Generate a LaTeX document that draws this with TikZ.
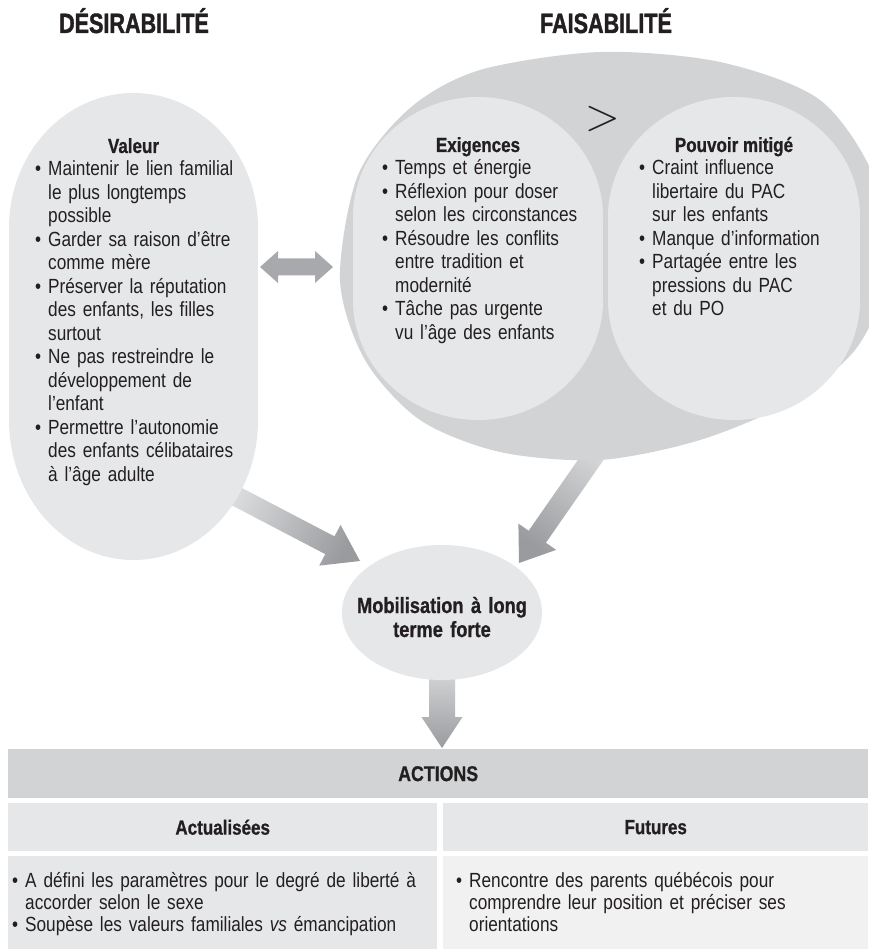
\RequirePackage{fix-cm}
\documentclass[tikz,border=0pt]{standalone}
\usepackage{fontspec}
\setmainfont{Liberation Sans}[FakeStretch=0.84]
\newfontfamily\headfont{Liberation Sans}[FakeStretch=0.83, BoldFeatures={FakeBold=0.8}]
\newfontfamily\titlefont{Liberation Sans}[FakeStretch=0.77, BoldFeatures={FakeBold=1.4}]
\usetikzlibrary{calc,shapes.geometric}

\definecolor{ink}{HTML}{231F20}
\definecolor{outerg}{HTML}{D1D3D4}
\definecolor{innerg}{HTML}{E6E7E8}
\definecolor{palecell}{HTML}{F1F1F2}
\definecolor{dblg}{HTML}{A7A9AC}
\definecolor{arrlight}{HTML}{D9DADC}
\definecolor{arrdark}{HTML}{999B9E}

% one bulleted paragraph with a hanging indent; lines broken by \newline
\newcommand\bulletline[1]{\hangindent=13pt\hangafter=1\noindent\hbox to 13pt{\textbullet\hfil}#1\par}

% broad arrow: style, tail, tip, shaft half width, head half width, head length
\newcommand\fatarrow[6]{%
  \coordinate (fa-b) at ($(#3)!#6!(#2)$);
  \path[#1] ($(#2)!#4!90:(#3)$) -- ($(fa-b)!#4!-90:(#2)$) -- ($(fa-b)!#5!-90:(#2)$)
    -- (#3) -- ($(fa-b)!#5!90:(#2)$) -- ($(fa-b)!#4!90:(#2)$) -- ($(#2)!#4!-90:(#3)$) -- cycle;
}

\begin{document}
\begin{tikzpicture}[x=1pt,y=-1pt,
  titlestyle/.style={anchor=base, inner sep=0pt, text=ink, font=\titlefont\bfseries\fontsize{28}{30}\selectfont},
  headstyle/.style={anchor=base, inner sep=0pt, text=ink, font=\headfont\bfseries\fontsize{20.5}{23.5}\selectfont},
  listtext/.style={anchor=base west, inner sep=0pt, text width=#1, align=left, text=ink, font=\fontsize{20.5}{23.5}\selectfont},
  celllist/.style={anchor=base west, inner sep=0pt, text width=#1, align=left, text=ink, font=\fontsize{20.5}{22}\selectfont},
  cell/.style={anchor=north west, inner sep=0pt, text=ink, font=\headfont\bfseries\fontsize{20.5}{22}\selectfont},
  gradarrow/.style={shade, top color=arrlight, bottom color=arrdark, shading angle=#1},
]
\useasboundingbox (0,0) rectangle (868,949);
\fill[white] (0,0) rectangle (868,949);

% connector end points
\coordinate (la-tail) at (228,492);
\coordinate (la-tip) at (360,561);
\coordinate (ra-tail) at (606,438);
\coordinate (ra-tip) at (519,563);
\coordinate (dn-tail) at (442,665);
\coordinate (dn-tip) at (442,748);
\coordinate (dbl-l) at (260,267);
\coordinate (dbl-r) at (333,267);

% shaded arrows, drawn first so that the shapes cover their tails
\fatarrow{gradarrow=62.6}{la-tail}{la-tip}{10pt}{23pt}{34pt}
\fatarrow{gradarrow=-35}{ra-tail}{ra-tip}{10.5pt}{23pt}{32pt}
\fatarrow{gradarrow=0}{dn-tail}{dn-tip}{13pt}{20.5pt}{31pt}

% feasibility bubble
\fill[outerg] plot[smooth cycle] coordinates {
  (340,280) (358,175) (410,108) (480,70) (600,52) (720,62) (820,100) (875,180)
  (885,280) (855,350) (790,402) (700,440) (600,460) (500,452) (420,420) (365,360)};
% demands
\fill[innerg] (478,217) ellipse [x radius=125, y radius=120];
\fill[innerg] (478,300) ellipse [x radius=125, y radius=120];
\fill[innerg] (353,217) rectangle (603,300);
% limited power
\fill[innerg] (734,217) ellipse [x radius=126, y radius=120];
\fill[innerg] (734,300) ellipse [x radius=126, y radius=120];
\fill[innerg] (608,217) rectangle (860,300);
% value pill
\fill[innerg] (133.5,228) ellipse [x radius=124.5, y radius=135];
\fill[innerg] (133.5,420) ellipse [x radius=124.5, y radius=140];
\fill[innerg] (9,228) rectangle (258,420);
% mobilisation
\node[ellipse, fill=innerg, minimum width=200pt, minimum height=135pt, inner sep=0pt] (mobil) at (442,612.5) {};

% two-way arrow between the value pill and the feasibility bubble
\coordinate (dbl-lb) at ($(dbl-l)!18pt!(dbl-r)$);
\coordinate (dbl-rb) at ($(dbl-r)!18pt!(dbl-l)$);
\fill[dblg] (dbl-l) -- ($(dbl-lb)!16pt!90:(dbl-r)$) -- ($(dbl-lb)!8.5pt!90:(dbl-r)$)
  -- ($(dbl-rb)!8.5pt!-90:(dbl-l)$) -- ($(dbl-rb)!16pt!-90:(dbl-l)$) -- (dbl-r)
  -- ($(dbl-rb)!16pt!90:(dbl-l)$) -- ($(dbl-rb)!8.5pt!90:(dbl-l)$)
  -- ($(dbl-lb)!8.5pt!-90:(dbl-r)$) -- ($(dbl-lb)!16pt!-90:(dbl-r)$) -- cycle;

% titles
\node[titlestyle] (desir) at (134,33) {DÉSIRABILITÉ};
\node[titlestyle] (faisab) at (606,33) {FAISABILITÉ};

% value
\node[headstyle] (valeur) at (133.5,153) {Valeur};
\node[listtext=222pt] (valeur-l) at (35,176) {%
  \bulletline{Maintenir le lien familial\newline le plus longtemps\newline possible}%
  \bulletline{Garder sa raison d’être\newline comme mère}%
  \bulletline{Préserver la réputation\newline des enfants, les filles\newline surtout}%
  \bulletline{Ne pas restreindre le\newline développement de\newline l’enfant}%
  \bulletline{Permettre l’autonomie\newline des enfants célibataires\newline à l’âge adulte}};

% demands
\node[headstyle] (exig) at (478,152) {Exigences};
\node[listtext=215pt] (exig-l) at (382,175) {%
  \bulletline{Temps et énergie}%
  \bulletline{Réflexion pour doser\newline selon les circonstances}%
  \bulletline{Résoudre les conflits\newline entre tradition et\newline modernité}%
  \bulletline{Tâche pas urgente\newline vu l’âge des enfants}};

\node[anchor=base, inner sep=0pt, text=ink, font=\fontsize{46}{46}\selectfont] (gt) at (602.5,131) {$>$};

% limited power
\node[headstyle] (pouvoir) at (734,152) {Pouvoir mitigé};
\node[listtext=215pt] (pouvoir-l) at (639,175) {%
  \bulletline{Craint influence\newline libertaire du PAC\newline sur les enfants}%
  \bulletline{Manque d’information}%
  \bulletline{Partagée entre les\newline pressions du PAC\newline et du PO}};

% outcome
\node[anchor=base, inner sep=0pt, text width=200pt, align=center, text=ink,
  font=\headfont\bfseries\fontsize{22}{24}\selectfont] (mobil-t) at (442,613)
  {Mobilisation à long\\terme forte};

% actions table
\node[cell, fill=outerg, minimum width=860pt, minimum height=49pt,
  font=\headfont\bfseries\fontsize{21.4}{22}\selectfont] (actions) at (8,749) {ACTIONS};
\node[cell, fill=innerg, minimum width=429pt, minimum height=48pt] (actu) at (8,803) {Actualisées};
\node[cell, fill=innerg, minimum width=425pt, minimum height=48pt] (fut) at (443,803) {Futures};
\node[cell, fill=innerg, minimum width=429pt, minimum height=93pt] (actu-b) at (8,856) {};
\node[cell, fill=palecell, minimum width=425pt, minimum height=93pt] (fut-b) at (443,856) {};
\node[celllist=415pt] (actu-l) at (12,887) {%
  \bulletline{A défini les paramètres pour le degré de liberté à\newline accorder selon le sexe}%
  \bulletline{Soupèse les valeurs familiales \textit{vs} émancipation}};
\node[celllist=405pt] (fut-l) at (456,887) {%
  \bulletline{Rencontre des parents québécois pour\newline comprendre leur position et préciser ses\newline orientations}};
\end{tikzpicture}
\end{document}
